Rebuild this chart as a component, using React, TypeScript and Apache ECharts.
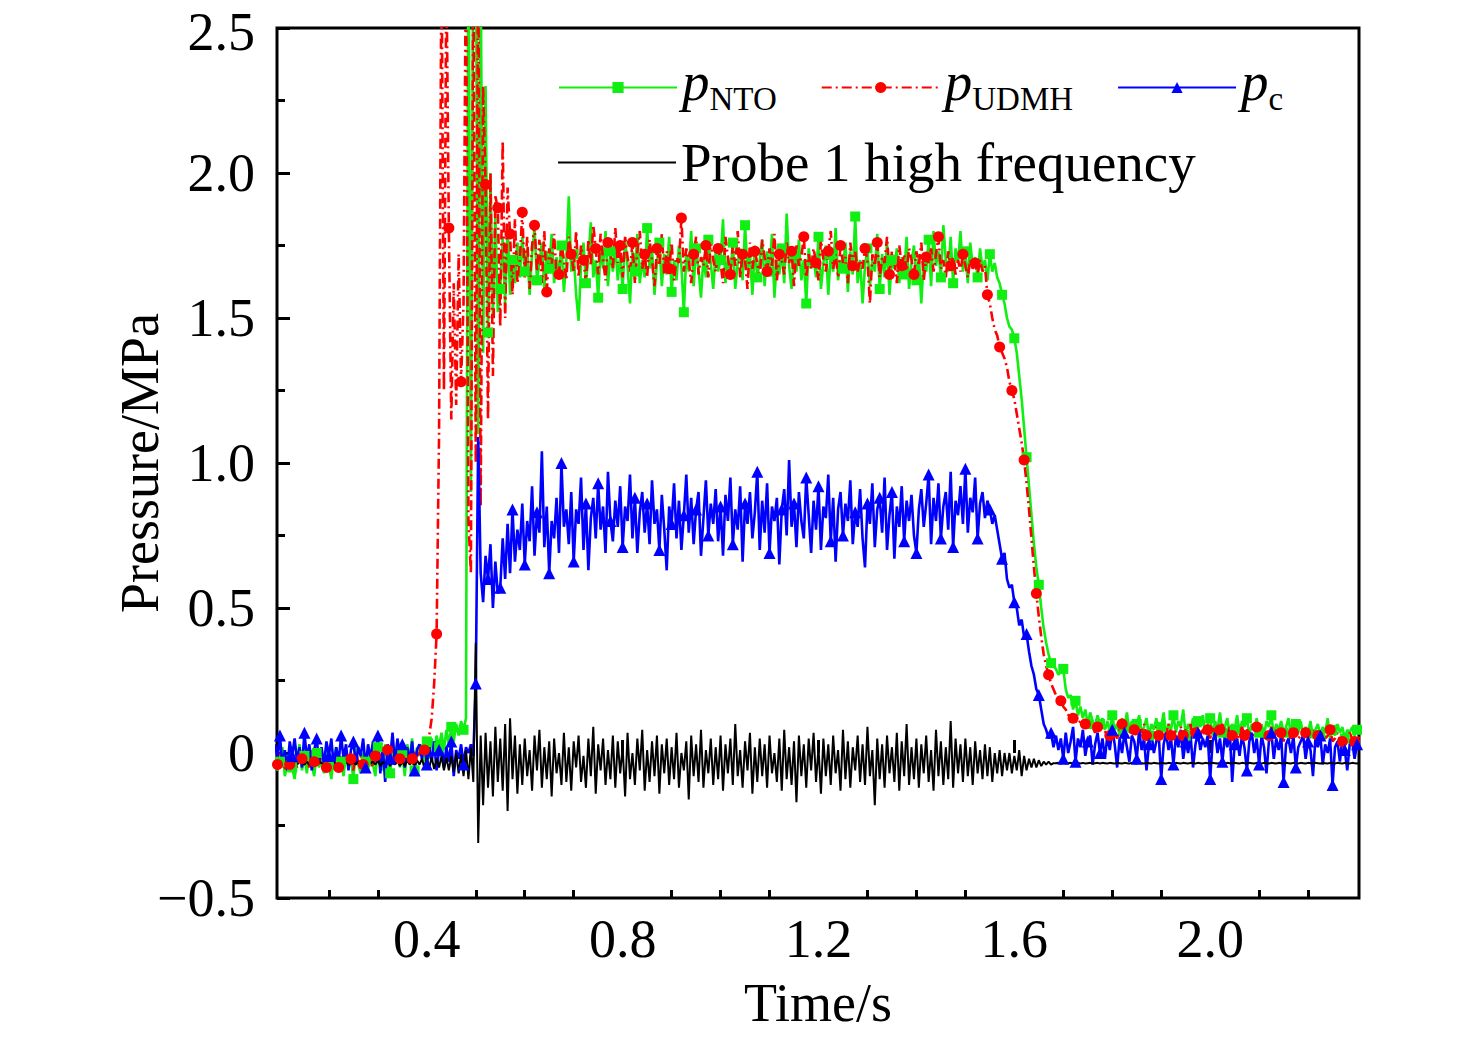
import React, { useEffect, useRef } from "react";
import * as echarts from "echarts";

// sampling grid of the recorded signals (s)
const T0 = 0.09;
const DT = 0.005;

const X_MIN = 0.094;
const X_MAX = 2.304;
const xLabelValues = [0.4, 0.8, 1.2, 1.6, 2.0];
const xMinorTicks = [0.2, 0.3, 0.5, 0.6, 0.7, 0.9, 1.0, 1.1, 1.3, 1.4, 1.5, 1.7, 1.8, 1.9, 2.1, 2.2];

// one row = 0.1 s (20 samples), row start time in comment
const pNTO = [
  -0.02, -0.06, -0.03, 0.02, -0.08, -0.04, 0.01, -0.05, -0.09, -0.02, 0.03, -0.06, -0.01, -0.07, 0.02, -0.04, -0.08, 0.0, -0.05, -0.02, // 0.09
  -0.07, 0.01, -0.04, -0.09, -0.01, 0.02, -0.06, -0.03, -0.08, 0.01, -0.05, -0.02, -0.09, 0.02, -0.04, -0.07, 0.0, -0.03, -0.06, 0.01, // 0.19
  -0.04, -0.08, 0.02, -0.03, -0.06, 0.03, -0.02, -0.07, 0.01, -0.04, 0.04, -0.05, 0.0, -0.08, 0.03, -0.02, 0.05, -0.06, 0.02, -0.01, // 0.29
  0.03, -0.05, 0.04, -0.02, 0.05, 0.0, 0.06, 0.02, 0.07, 0.01, 0.08, 0.03, 0.09, 0.04, 0.1, 0.06, 0.11, 0.08, 0.12, 2.9, // 0.39
  0.9, 2.9, 2.9, 1.1, 2.7, 1.38, 2.3, 1.45, 2.0, 1.5, 1.85, 1.52, 1.6, 1.78, 1.55, 1.82, 1.58, 1.7, 1.62, 1.76, // 0.49
  1.64, 1.78, 1.66, 1.74, 1.58, 1.72, 1.81, 1.63, 1.69, 1.76, 1.6, 1.73, 1.67, 1.79, 1.62, 1.71, 1.65, 1.75, 1.59, 1.7, // 0.59
  1.92, 1.66, 1.72, 1.58, 1.49, 1.68, 1.76, 1.62, 1.71, 1.83, 1.64, 1.7, 1.57, 1.74, 1.67, 1.8, 1.61, 1.73, 1.66, 1.75, // 0.69
  1.63, 1.71, 1.6, 1.77, 1.68, 1.55, 1.73, 1.66, 1.79, 1.62, 1.7, 1.64, 1.81, 1.67, 1.74, 1.58, 1.69, 1.76, 1.61, 1.72, // 0.79
  1.65, 1.78, 1.59, 1.7, 1.63, 1.75, 1.68, 1.52, 1.72, 1.66, 1.8, 1.61, 1.74, 1.67, 1.57, 1.71, 1.64, 1.77, 1.69, 1.6, // 0.89
  1.73, 1.66, 1.7, 1.84, 1.62, 1.71, 1.65, 1.76, 1.6, 1.69, 1.74, 1.63, 1.82, 1.67, 1.72, 1.58, 1.75, 1.64, 1.7, 1.77, // 0.99
  1.61, 1.73, 1.66, 1.79, 1.57, 1.7, 1.65, 1.74, 1.62, 1.86, 1.68, 1.6, 1.72, 1.66, 1.77, 1.63, 1.7, 1.55, 1.74, 1.67, // 1.09
  1.71, 1.64, 1.78, 1.6, 1.69, 1.75, 1.58, 1.72, 1.66, 1.81, 1.63, 1.7, 1.67, 1.76, 1.59, 1.73, 1.65, 1.85, 1.62, 1.7, // 1.19
  1.55, 1.68, 1.74, 1.61, 1.7, 1.66, 1.79, 1.6, 1.72, 1.64, 1.76, 1.58, 1.7, 1.67, 1.74, 1.62, 1.71, 1.65, 1.78, 1.6, // 1.29
  1.69, 1.75, 1.63, 1.72, 1.55, 1.7, 1.66, 1.77, 1.61, 1.8, 1.68, 1.73, 1.64, 1.82, 1.7, 1.66, 1.78, 1.62, 1.74, 1.69, // 1.39
  1.8, 1.66, 1.73, 1.62, 1.76, 1.68, 1.71, 1.64, 1.74, 1.67, 1.7, 1.63, 1.72, 1.66, 1.69, 1.64, 1.62, 1.58, 1.55, 1.5, // 1.49
  1.47, 1.46, 1.43, 1.38, 1.3, 1.22, 1.12, 1.02, 0.92, 0.82, 0.72, 0.64, 0.58, 0.5, 0.43, 0.38, 0.34, 0.31, 0.3, 0.29, // 1.59
  0.27, 0.28, 0.29, 0.22, 0.19, 0.2, 0.15, 0.18, 0.13, 0.16, 0.12, 0.15, 0.1, 0.14, 0.11, 0.09, 0.13, 0.1, 0.12, 0.08, // 1.69
  0.11, 0.07, 0.13, 0.08, 0.1, 0.06, 0.12, 0.09, 0.14, 0.07, 0.11, 0.08, 0.1, 0.13, 0.07, 0.09, 0.12, 0.06, 0.1, 0.08, // 1.79
  0.12, 0.07, 0.09, 0.14, 0.06, 0.1, 0.08, 0.13, 0.07, 0.11, 0.09, 0.15, 0.06, 0.1, 0.08, 0.12, 0.07, 0.11, 0.09, 0.13, // 1.89
  0.07, 0.1, 0.12, 0.06, 0.11, 0.08, 0.14, 0.07, 0.09, 0.12, 0.06, 0.1, 0.08, 0.13, 0.07, 0.11, 0.09, 0.12, 0.06, 0.1, // 1.99
  0.08, 0.12, 0.07, 0.1, 0.06, 0.11, 0.09, 0.13, 0.06, 0.1, 0.08, 0.11, 0.07, 0.09, 0.12, 0.06, 0.08, 0.1, 0.07, 0.11, // 2.09
  0.06, 0.09, 0.07, 0.11, 0.05, 0.08, 0.1, 0.06, 0.09, 0.07, 0.12, 0.05, 0.08, 0.06, 0.1, 0.07, 0.09, 0.05, 0.08, 0.07, // 2.19
  0.09, 0.06, 0.08, 0.07, // 2.29
];

const pUDMH = [
  -0.01, -0.04, 0.0, -0.03, -0.06, -0.01, -0.04, 0.01, -0.03, -0.05, 0.0, -0.02, -0.04, -0.01, -0.05, 0.01, -0.03, -0.02, -0.04, 0.0, // 0.09
  -0.03, -0.05, -0.01, -0.04, 0.0, -0.02, -0.05, -0.01, -0.03, 0.01, -0.04, -0.02, -0.06, 0.0, -0.03, -0.01, -0.04, -0.02, 0.0, -0.03, // 0.19
  -0.05, -0.01, -0.03, 0.0, -0.04, -0.02, 0.01, -0.03, -0.01, -0.04, 0.0, -0.02, 0.01, -0.03, -0.01, 0.0, -0.02, 0.01, -0.01, 0.0, // 0.29
  -0.01, 0.01, 0.03, 0.06, 0.12, 0.24, 0.41, 1.1, 2.8, 1.25, 2.7, 1.81, 1.15, 1.62, 1.2, 1.72, 1.28, 1.55, 2.8, 0.8, // 0.39
  0.62, 2.8, 1.0, 2.8, 0.85, 2.3, 1.96, 1.15, 2.0, 1.3, 1.92, 1.88, 1.47, 2.11, 1.5, 1.95, 1.79, 1.58, 1.84, 1.62, // 0.49
  1.7, 1.865, 1.64, 1.78, 1.6, 1.75, 1.82, 1.66, 1.77, 1.62, 1.8, 1.59, 1.74, 1.68, 1.79, 1.64, 1.65, 1.76, 1.7, 1.63, // 0.59
  1.78, 1.72, 1.66, 1.8, 1.64, 1.75, 1.7, 1.62, 1.77, 1.68, 1.82, 1.74, 1.65, 1.79, 1.7, 1.63, 1.76, 1.72, 1.67, 1.81, // 0.69
  1.69, 1.75, 1.64, 1.78, 1.71, 1.66, 1.76, 1.62, 1.73, 1.8, 1.67, 1.72, 1.64, 1.77, 1.7, 1.61, 1.74, 1.68, 1.79, 1.65, // 0.79
  1.73, 1.67, 1.76, 1.63, 1.71, 1.69, 1.845, 1.66, 1.74, 1.7, 1.62, 1.72, 1.78, 1.65, 1.71, 1.68, 1.75, 1.64, 1.77, 1.7, // 0.89
  1.66, 1.74, 1.69, 1.62, 1.78, 1.71, 1.65, 1.75, 1.68, 1.8, 1.64, 1.72, 1.7, 1.6, 1.76, 1.67, 1.73, 1.69, 1.63, 1.77, // 0.99
  1.71, 1.66, 1.74, 1.68, 1.79, 1.63, 1.72, 1.7, 1.65, 1.76, 1.69, 1.73, 1.61, 1.75, 1.68, 1.71, 1.78, 1.64, 1.72, 1.67, // 1.09
  1.74, 1.69, 1.63, 1.77, 1.7, 1.66, 1.73, 1.8, 1.67, 1.72, 1.64, 1.75, 1.69, 1.71, 1.62, 1.76, 1.68, 1.73, 1.66, 1.7, // 1.19
  1.67, 1.74, 1.7, 1.55, 1.72, 1.68, 1.76, 1.64, 1.71, 1.69, 1.78, 1.65, 1.73, 1.7, 1.62, 1.75, 1.68, 1.72, 1.66, 1.74, // 1.29
  1.7, 1.65, 1.73, 1.68, 1.76, 1.63, 1.71, 1.69, 1.74, 1.66, 1.72, 1.78, 1.67, 1.7, 1.64, 1.73, 1.68, 1.71, 1.65, 1.7, // 1.39
  1.66, 1.72, 1.68, 1.64, 1.7, 1.67, 1.69, 1.65, 1.7, 1.66, 1.68, 1.58, 1.55, 1.5, 1.46, 1.44, 1.4, 1.38, 1.36, 1.33, // 1.49
  1.28, 1.25, 1.22, 1.17, 1.12, 1.07, 1.01, 0.93, 0.84, 0.74, 0.64, 0.55, 0.47, 0.4, 0.34, 0.3, 0.27, 0.24, 0.22, 0.2, // 1.59
  0.19, 0.18, 0.16, 0.15, 0.13, 0.14, 0.12, 0.11, 0.1, 0.11, 0.09, 0.1, 0.08, 0.1, 0.09, 0.07, 0.09, 0.08, 0.1, 0.07, // 1.69
  0.08, 0.06, 0.09, 0.07, 0.05, 0.08, 0.1, 0.06, 0.07, 0.09, 0.05, 0.08, 0.06, 0.09, 0.07, 0.1, 0.06, 0.08, 0.05, 0.07, // 1.79
  0.09, 0.06, 0.08, 0.05, 0.07, 0.1, 0.06, 0.08, 0.07, 0.05, 0.09, 0.06, 0.08, 0.07, 0.1, 0.05, 0.07, 0.09, 0.06, 0.08, // 1.89
  0.06, 0.08, 0.05, 0.09, 0.07, 0.06, 0.08, 0.1, 0.05, 0.07, 0.09, 0.06, 0.08, 0.05, 0.07, 0.09, 0.06, 0.08, 0.07, 0.05, // 1.99
  0.07, 0.09, 0.06, 0.08, 0.05, 0.07, 0.06, 0.09, 0.05, 0.08, 0.06, 0.07, 0.04, 0.08, 0.06, 0.05, 0.07, 0.09, 0.05, 0.06, // 2.09
  0.05, 0.07, 0.04, 0.06, 0.08, 0.05, 0.06, 0.04, 0.07, 0.05, 0.06, 0.08, 0.04, 0.05, 0.07, 0.05, 0.04, 0.06, 0.05, 0.07, // 2.19
  0.05, 0.04, 0.06, 0.05, // 2.29
];

const pc = [
  0.03, -0.02, 0.06, -0.04, 0.01, -0.06, 0.04, -0.01, 0.05, -0.03, 0.02, -0.05, 0.07, -0.02, 0.03, -0.06, 0.01, 0.05, -0.03, 0.02, // 0.09
  -0.04, 0.04, -0.01, 0.05, -0.05, 0.02, -0.03, 0.06, -0.02, 0.03, -0.06, 0.01, 0.04, -0.04, 0.02, -0.01, 0.05, -0.05, 0.03, -0.02, // 0.19
  0.04, -0.03, 0.06, -0.07, 0.02, -0.1, 0.03, -0.02, 0.07, -0.04, 0.05, -0.01, 0.03, -0.05, 0.02, -0.03, 0.04, -0.06, 0.01, 0.03, // 0.29
  -0.02, 0.05, -0.04, 0.02, -0.03, 0.04, -0.06, 0.01, 0.03, -0.05, 0.02, -0.03, 0.04, -0.08, 0.01, -0.02, 0.03, -0.04, 0.02, 0.0, // 0.39
  0.03, -0.01, 0.24, 1.09, 0.62, 0.52, 0.68, 0.6, 0.72, 0.5, 0.66, 0.55, 0.57, 0.74, 0.6, 0.79, 0.62, 0.84, 0.66, 0.77, // 0.49
  0.7, 0.86, 0.65, 0.8, 0.73, 0.92, 0.68, 0.83, 0.76, 1.04, 0.71, 0.85, 0.62, 0.8, 0.74, 0.88, 0.69, 1.0, 0.78, 0.84, // 0.59
  0.72, 0.9, 0.66, 0.84, 0.79, 0.95, 0.7, 0.86, 0.63, 0.81, 0.88, 0.74, 0.93, 0.77, 0.85, 0.69, 0.97, 0.8, 0.73, 0.87, // 0.69
  0.78, 0.92, 0.71, 0.85, 0.8, 0.96, 0.74, 0.88, 0.69, 0.83, 0.9, 0.76, 0.86, 0.72, 0.94, 0.79, 0.84, 0.7, 0.89, 0.77, // 0.79
  0.63, 0.85, 0.79, 0.93, 0.74, 0.87, 0.7, 0.82, 0.96, 0.76, 0.88, 0.72, 0.84, 0.9, 0.68, 0.81, 0.94, 0.75, 0.86, 0.79, // 0.89
  0.91, 0.73, 0.85, 0.68, 0.89, 0.8, 0.95, 0.72, 0.84, 0.77, 0.92, 0.66, 0.86, 0.79, 0.9, 0.74, 0.83, 0.97, 0.7, 0.87, // 0.99
  0.76, 0.93, 0.69, 0.85, 0.8, 0.88, 0.65, 0.84, 0.91, 0.75, 1.01, 0.78, 0.86, 0.71, 0.9, 0.8, 0.74, 0.95, 0.82, 0.69, // 1.09
  0.87, 0.77, 0.92, 0.7, 0.85, 0.81, 0.96, 0.73, 0.88, 0.66, 0.84, 0.9, 0.75, 0.86, 0.8, 0.94, 0.72, 0.83, 0.78, 0.91, // 1.19
  0.74, 0.64, 0.86, 0.79, 0.93, 0.71, 0.84, 0.88, 0.76, 0.95, 0.7, 0.82, 0.9, 0.67, 0.85, 0.78, 0.92, 0.73, 0.87, 0.8, // 1.29
  0.89, 0.75, 0.69, 0.84, 0.91, 0.78, 0.86, 0.96, 0.72, 0.88, 0.8, 0.93, 0.74, 0.85, 0.9, 0.77, 0.97, 0.71, 0.87, 0.82, // 1.39
  0.92, 0.79, 0.98, 0.76, 0.88, 0.83, 0.95, 0.74, 0.86, 0.9, 0.81, 0.87, 0.84, 0.79, 0.82, 0.77, 0.72, 0.67, 0.69, 0.6, // 1.49
  0.57, 0.58, 0.52, 0.5, 0.44, 0.46, 0.4, 0.41, 0.35, 0.3, 0.27, 0.22, 0.2, 0.15, 0.1, 0.08, 0.05, 0.07, 0.02, 0.06, // 1.59
  0.01, 0.05, -0.02, 0.07, 0.0, 0.04, 0.09, -0.03, 0.05, 0.02, 0.08, -0.01, 0.04, 0.06, -0.04, 0.03, 0.07, 0.0, 0.05, -0.02, // 1.69
  0.06, 0.01, 0.08, 0.03, -0.05, 0.05, 0.0, 0.07, 0.02, -0.03, 0.06, 0.04, -0.02, 0.08, 0.01, 0.05, -0.06, 0.03, 0.07, 0.0, // 1.79
  0.04, 0.06, -0.09, 0.03, 0.07, 0.01, 0.05, -0.04, 0.06, 0.02, 0.08, -0.02, 0.04, 0.0, 0.06, -0.05, 0.03, 0.07, 0.01, 0.05, // 1.89
  0.02, 0.06, -0.09, 0.04, 0.07, 0.0, 0.05, -0.03, 0.06, 0.02, 0.08, -0.1, 0.03, 0.05, -0.01, 0.06, 0.02, -0.06, 0.04, 0.07, // 1.99
  0.0, 0.05, -0.04, 0.06, 0.02, -0.07, 0.04, 0.07, -0.02, 0.05, 0.01, 0.06, -0.1, 0.03, 0.05, 0.0, 0.06, -0.05, 0.02, 0.04, // 2.09
  0.06, -0.02, 0.04, 0.01, -0.08, 0.05, 0.02, 0.06, -0.04, 0.03, 0.0, 0.05, -0.11, 0.02, 0.04, -0.03, 0.05, 0.01, -0.06, 0.03, // 2.19
  0.04, -0.02, 0.03, 0.01, // 2.29
];

const probe1 = [
  -0.03, -0.04, -0.03, -0.04, -0.035, -0.03, -0.04, -0.035, -0.03, -0.04, -0.03, -0.035, -0.04, -0.03, -0.04, -0.035, -0.03, -0.04, -0.03, -0.035, // 0.09
  -0.04, -0.03, -0.035, -0.04, -0.03, -0.04, -0.035, -0.03, -0.04, -0.03, -0.04, -0.035, -0.03, -0.04, -0.03, -0.035, -0.04, -0.03, -0.04, -0.035, // 0.19
  -0.03, -0.04, -0.025, -0.045, -0.03, -0.04, -0.025, -0.045, -0.03, -0.04, -0.025, -0.045, -0.03, -0.045, -0.025, -0.04, -0.03, -0.045, -0.025, -0.04, // 0.29
  -0.02, -0.05, -0.02, -0.05, -0.015, -0.055, -0.02, -0.05, -0.01, -0.06, -0.015, -0.06, -0.01, -0.065, 0.0, -0.07, -0.005, -0.08, 0.01, -0.09, // 0.39
  0.02, -0.1, 0.38, -0.31, 0.06, -0.18, 0.07, -0.12, 0.04, -0.15, 0.09, -0.1, 0.05, -0.13, 0.1, -0.2, 0.12, -0.09, 0.06, -0.14, // 0.49
  0.03, -0.11, 0.05, -0.08, 0.01, -0.13, 0.06, -0.06, 0.08, -0.12, 0.02, -0.09, 0.04, -0.15, 0.05, -0.07, 0.0, -0.11, 0.07, -0.1, // 0.59
  0.02, -0.13, 0.04, -0.05, 0.06, -0.1, -0.01, -0.12, 0.05, -0.08, 0.09, -0.14, 0.03, -0.06, 0.05, -0.11, 0.01, -0.09, 0.06, -0.12, // 0.69
  0.04, -0.07, 0.02, -0.15, 0.07, -0.09, 0.0, -0.11, 0.05, -0.06, 0.08, -0.13, 0.01, -0.1, 0.04, -0.08, 0.06, -0.14, 0.03, -0.07, // 0.79
  0.05, -0.11, 0.02, -0.09, 0.07, -0.12, 0.0, -0.06, 0.04, -0.16, 0.06, -0.08, 0.03, -0.1, 0.08, -0.12, 0.01, -0.07, 0.05, -0.11, // 0.89
  0.02, -0.09, 0.06, -0.13, 0.03, -0.07, 0.05, -0.11, 0.1, -0.08, 0.01, -0.12, 0.04, -0.06, 0.07, -0.14, 0.02, -0.1, 0.05, -0.08, // 0.99
  0.03, -0.12, 0.06, -0.07, 0.0, -0.1, 0.05, -0.13, 0.08, -0.09, 0.02, -0.11, 0.04, -0.17, 0.06, -0.08, 0.03, -0.12, 0.05, -0.06, // 1.09
  0.07, -0.1, 0.02, -0.14, 0.05, -0.08, 0.03, -0.11, 0.06, -0.07, 0.01, -0.13, 0.08, -0.09, 0.04, -0.12, 0.02, -0.06, 0.06, -0.1, // 1.19
  0.03, -0.11, 0.09, -0.08, 0.01, -0.18, 0.05, -0.09, 0.03, -0.12, 0.06, -0.07, 0.02, -0.1, 0.07, -0.13, 0.04, -0.08, 0.1, -0.11, // 1.29
  0.02, -0.09, 0.05, -0.12, 0.03, -0.07, 0.06, -0.1, 0.01, -0.13, 0.08, -0.08, 0.04, -0.11, 0.02, -0.09, 0.11, -0.12, 0.05, -0.07, // 1.39
  0.03, -0.1, 0.05, -0.08, 0.02, -0.11, 0.04, -0.07, 0.01, -0.09, 0.03, -0.08, 0.02, -0.1, 0.0, -0.07, 0.01, -0.08, 0.0, -0.06, // 1.49
  0.0, -0.07, -0.01, -0.06, 0.01, -0.08, -0.01, -0.06, -0.02, -0.05, -0.02, -0.05, -0.025, -0.045, -0.03, -0.04, -0.03, -0.04, -0.035, -0.035, // 1.59
  -0.034, -0.036, -0.034, -0.036, -0.035, -0.034, -0.036, -0.035, -0.034, -0.036, -0.034, -0.036, -0.035, -0.034, -0.036, -0.035, -0.034, -0.036, -0.034, -0.035, // 1.69
  -0.036, -0.034, -0.035, -0.036, -0.034, -0.035, -0.036, -0.034, -0.035, -0.036, -0.034, -0.035, -0.036, -0.034, -0.035, -0.036, -0.034, -0.035, -0.036, -0.034, // 1.79
  -0.035, -0.036, -0.034, -0.035, -0.036, -0.034, -0.035, -0.036, -0.034, -0.035, -0.036, -0.034, -0.035, -0.036, -0.034, -0.035, -0.036, -0.034, -0.035, -0.036, // 1.89
  -0.034, -0.035, -0.036, -0.034, -0.035, -0.036, -0.034, -0.035, -0.036, -0.034, -0.035, -0.036, -0.034, -0.035, -0.036, -0.034, -0.035, -0.036, -0.034, -0.035, // 1.99
  -0.036, -0.034, -0.035, -0.036, -0.034, -0.035, -0.036, -0.034, -0.035, -0.036, -0.034, -0.035, -0.036, -0.034, -0.035, -0.036, -0.034, -0.035, -0.036, -0.034, // 2.09
  -0.035, -0.036, -0.034, -0.035, -0.036, -0.034, -0.035, -0.036, -0.034, -0.035, -0.036, -0.034, -0.035, -0.036, -0.034, -0.035, -0.036, -0.034, -0.035, -0.036, // 2.19
  -0.034, -0.035, -0.036, -0.034, // 2.29
];

const FONT = "'Liberation Serif', 'Times New Roman', serif";

const legendNames: Record<string, string> = {
  pNTO: "{p|p}{s|NTO}",
  pUDMH: "{p|p}{s|UDMH}",
  pc: "{p|p}{s|c}",
};

// markers every 5th sample, like the original plot
const toPoints = (values: number[], markerAt: number) =>
  values.map((v, i) => {
    const t = +(T0 + i * DT).toFixed(3);
    return i % 5 === markerAt ? [t, v] : { value: [t, v], symbol: "none" };
  });

const yLabel = (v: number) => {
  if (v === 0) return "0";
  if (v < 0) return "\u2212" + Math.abs(v).toFixed(1);
  // top label nudged down a little so it stays inside the page
  if (v === 2.5) return "{top|" + v.toFixed(1) + "}";
  return v.toFixed(1);
};

const App: React.FC = () => {
  const chartRef = useRef<HTMLDivElement>(null);

  useEffect(() => {
    if (!chartRef.current) return;
    const chart = echarts.init(chartRef.current, undefined, { renderer: "svg" });

    const legendText = {
      fontFamily: FONT,
      fontSize: 55,
      color: "#000",
      rich: {
        p: { fontFamily: FONT, fontStyle: "italic", fontSize: 55, color: "#000", padding: [0, 0, 12, 0] },
        s: { fontFamily: FONT, fontSize: 33, color: "#000", padding: [22, 0, 0, 0] },
      },
    };

    chart.setOption({
      animation: false,
      backgroundColor: "#fff",
      grid: {
        left: 277,
        top: 28,
        right: 117,
        bottom: 141,
        show: true,
        borderColor: "#000",
        borderWidth: 3,
        backgroundColor: "transparent",
      },
      legend: [
        {
          data: ["pNTO", "pUDMH", "pc"],
          left: 558,
          top: 54,
          padding: 0,
          itemWidth: 118,
          itemHeight: 14,
          itemGap: 44,
          formatter: (name: string) => legendNames[name] || name,
          textStyle: legendText,
        },
        {
          data: [{ name: "Probe 1 high frequency", icon: "rect" }],
          left: 558,
          top: 135,
          padding: 0,
          itemWidth: 118,
          itemHeight: 2,
          textStyle: { fontFamily: FONT, fontSize: 55, color: "#000" },
        },
      ],
      xAxis: [
        {
          type: "value",
          min: X_MIN,
          max: X_MAX,
          name: "Time/s",
          nameLocation: "middle",
          nameGap: 78,
          nameMoveOverlap: false,
          nameTextStyle: { fontFamily: FONT, fontSize: 54, color: "#000" },
          axisLine: { show: false },
          axisTick: {
            inside: true,
            length: 13,
            customValues: xLabelValues,
            lineStyle: { color: "#000", width: 3 },
          },
          axisLabel: {
            customValues: xLabelValues,
            margin: 14,
            fontFamily: FONT,
            fontSize: 54,
            color: "#000",
            formatter: (v: number) => v.toFixed(1),
          },
          splitLine: { show: false },
        },
        {
          type: "value",
          position: "bottom",
          min: X_MIN,
          max: X_MAX,
          axisLine: { show: false },
          axisTick: {
            inside: true,
            length: 8,
            customValues: xMinorTicks,
            lineStyle: { color: "#000", width: 3 },
          },
          axisLabel: { show: false },
          splitLine: { show: false },
        },
      ],
      yAxis: {
        type: "value",
        min: -0.5,
        max: 2.5,
        interval: 0.5,
        name: "Pressure/MPa",
        nameLocation: "middle",
        nameGap: 110,
        nameMoveOverlap: false,
        nameTextStyle: { fontFamily: FONT, fontSize: 54, color: "#000" },
        axisLine: { show: false },
        axisTick: { inside: true, length: 13, lineStyle: { color: "#000", width: 3 } },
        minorTick: { show: true, splitNumber: 2, length: 8, lineStyle: { color: "#000", width: 3 } },
        axisLabel: {
          margin: 22,
          fontFamily: FONT,
          fontSize: 54,
          color: "#000",
          formatter: yLabel,
          rich: {
            top: { fontFamily: FONT, fontSize: 54, color: "#000", padding: [8, 0, 0, 0] },
          },
        },
        splitLine: { show: false },
      },
      series: [
        {
          name: "pNTO",
          type: "line",
          data: toPoints(pNTO, 2),
          symbol: "rect",
          symbolSize: 10,
          color: "#11ee11",
          lineStyle: { width: 2.6, color: "#11ee11" },
          itemStyle: { color: "#11ee11", borderWidth: 0 },
        },
        {
          name: "pUDMH",
          type: "line",
          data: toPoints(pUDMH, 1),
          symbol: "circle",
          symbolSize: 11,
          color: "#ff0000",
          lineStyle: { width: 2.6, color: "#ff0000", type: [10, 4, 2, 4] },
          itemStyle: { color: "#ff0000", borderWidth: 0 },
        },
        {
          name: "pc",
          type: "line",
          data: toPoints(pc, 2),
          symbol: "triangle",
          symbolSize: 12,
          color: "#0000ff",
          lineStyle: { width: 2.6, color: "#0000ff" },
          itemStyle: { color: "#0000ff", borderWidth: 0 },
        },
        {
          name: "Probe 1 high frequency",
          type: "line",
          data: toPoints(probe1, -1),
          symbol: "none",
          color: "#000",
          lineStyle: { width: 2, color: "#000" },
        },
      ],
    });

    return () => {
      chart.dispose();
    };
  }, []);

  return (
    <div
      ref={chartRef}
      style={{ position: "fixed", left: 0, top: 0, width: "1476px", height: "1039px", background: "#fff" }}
    />
  );
};

export default App;
